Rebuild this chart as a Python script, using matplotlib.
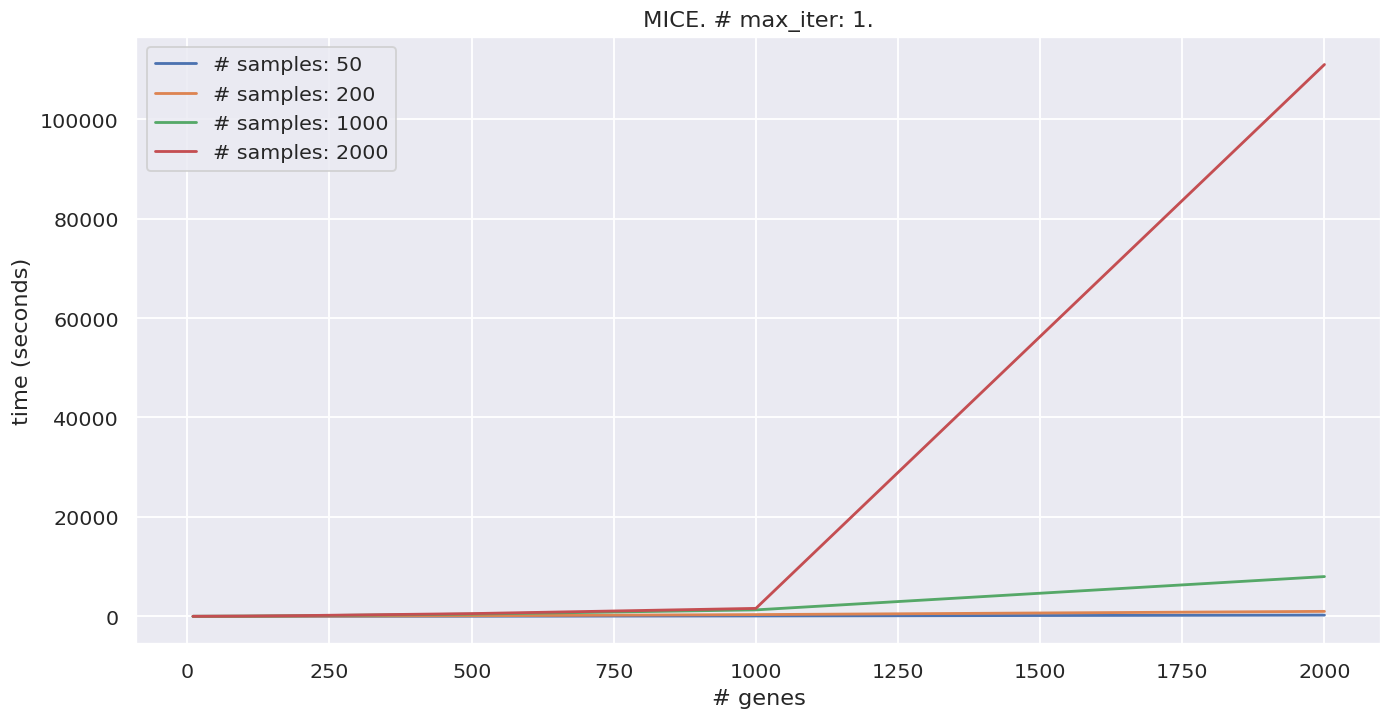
import matplotlib
matplotlib.use("Agg")
import matplotlib.pyplot as plt
import seaborn as sns

# number of genes tested
n_genes = [10, 100, 200, 500, 1000, 2000]

# run time (seconds) per number of samples
time_50 = [1, 5, 10, 30, 80, 250]
time_200 = [2, 15, 40, 120, 350, 1000]
time_1000 = [5, 40, 120, 450, 1300, 8000]
time_2000 = [5, 50, 150, 550, 1600, 111000]

sample_sizes = [50, 200, 1000, 2000]
times = [time_50, time_200, time_1000, time_2000]

sns.set_theme()

fig, ax = plt.subplots(figsize=(10.32, 5.30), dpi=134.9)

for n, t in zip(sample_sizes, times):
    ax.plot(n_genes, t, label="# samples: " + str(n))

ax.set_title("MICE. # max_iter: 1.")
ax.set_xlabel("# genes")
ax.set_ylabel("time (seconds)")
ax.legend(loc="upper left")

plt.subplots_adjust(left=0.098, right=0.992, top=0.947, bottom=0.098)
plt.savefig("out.png")
